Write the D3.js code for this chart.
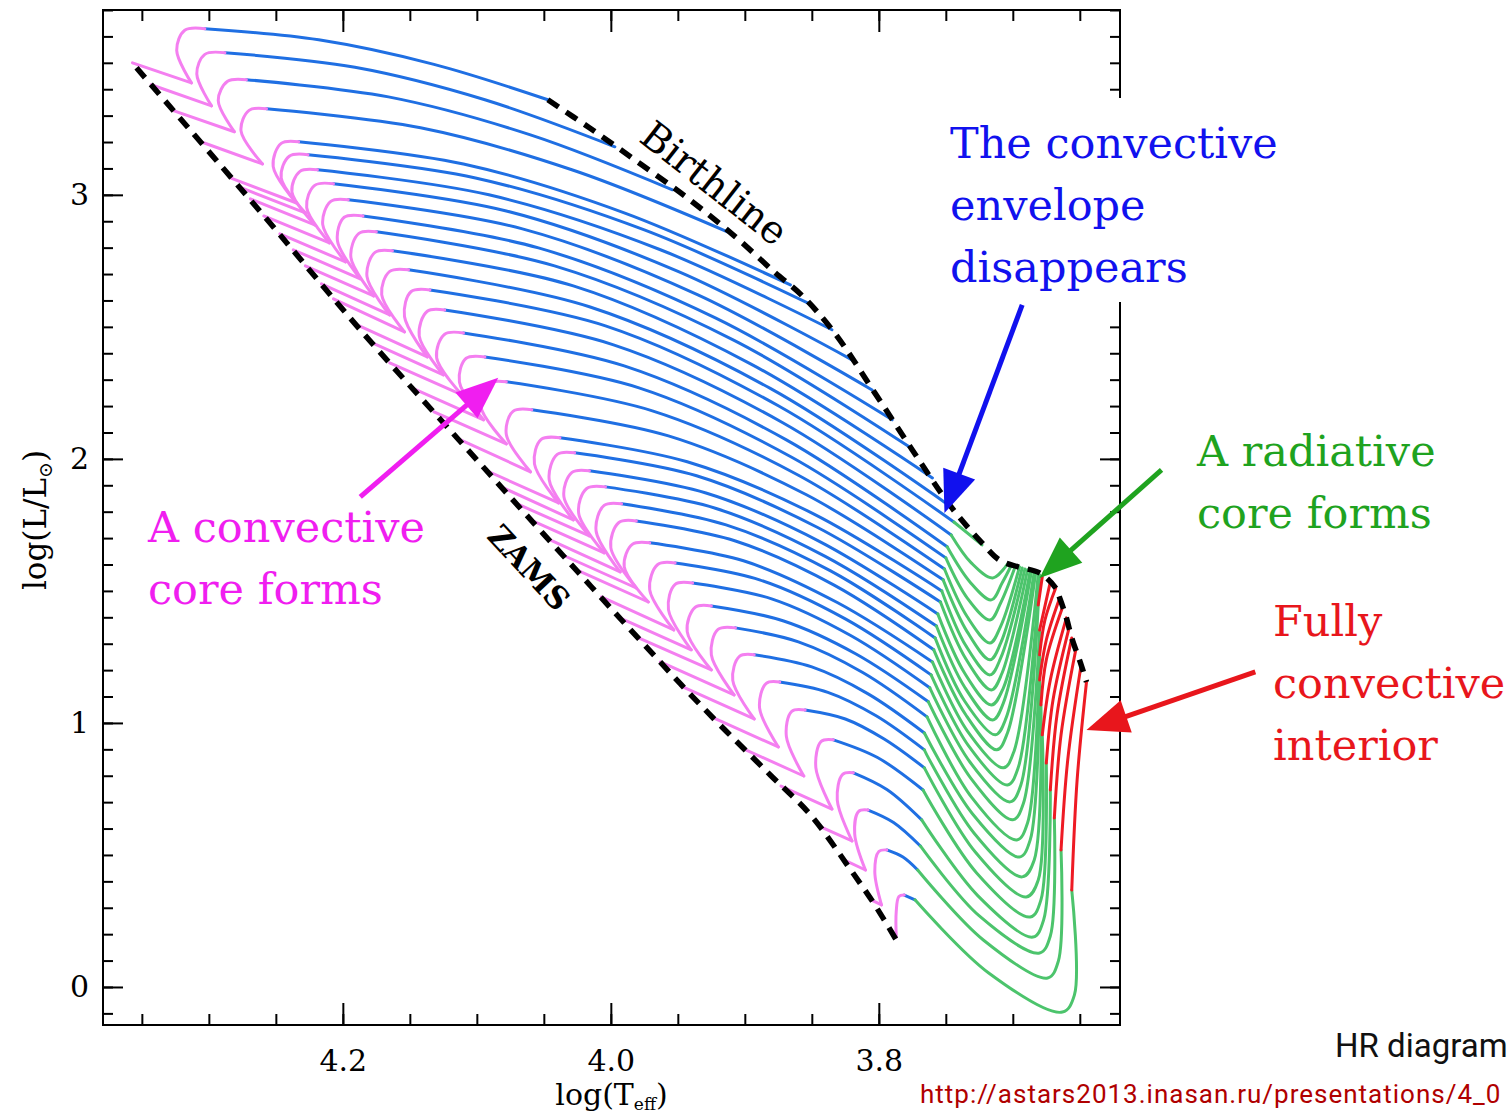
<!DOCTYPE html>
<html>
<head>
<meta charset="utf-8">
<script src="https://cdn.jsdelivr.net/npm/d3@7"></script>
<style>
  body { margin: 0; background: #fff; }
  svg { display: block; }
</style>
</head>
<body>
<svg id="chart" width="1512" height="1120"></svg>
<script>
// Pre-main-sequence tracks, points are [log(Teff), log(L/Lsun)], one row per track (most massive first)

const xMajor = [4.2, 4.0, 3.8];
const yMajor = [0, 1, 2, 3];

const birthline = [[4.047,3.360],[4.016,3.254],[3.977,3.114],[3.941,2.981],[3.907,2.841],[3.878,2.708],
  [3.857,2.617],[3.833,2.477],[3.803,2.250],[3.775,2.034],[3.746,1.818],[3.723,1.682],[3.710,1.617],
  [3.696,1.591],[3.680,1.568],[3.668,1.511],[3.665,1.473],[3.660,1.398],[3.656,1.322],[3.649,1.220],[3.645,1.155]];

const zams = [[4.354,3.481],[4.262,2.939],[4.187,2.489],[4.098,1.985],[4.051,1.720],[3.977,1.307],
  [3.931,1.057],[3.881,0.803],[3.851,0.652],[3.822,0.451],[3.803,0.311],[3.786,0.170]];

// blue: envelope no longer convective
const fullyRadiative = [
  [[4.047,3.360],[4.132,3.494],[4.218,3.587],[4.303,3.629]],
  [[3.997,3.182],[4.094,3.360],[4.191,3.483],[4.288,3.538]],
  [[3.954,3.019],[4.060,3.227],[4.166,3.371],[4.272,3.436]],
  [[3.913,2.860],[4.028,3.093],[4.142,3.254],[4.257,3.326]],
  [[3.866,2.659],[3.989,2.930],[4.110,3.117],[4.233,3.201]],
  [[3.850,2.583],[3.975,2.867],[4.101,3.064],[4.226,3.152]],
  [[3.835,2.489],[3.963,2.792],[4.091,3.000],[4.219,3.095]],
  [[3.820,2.375],[3.949,2.708],[4.078,2.939],[4.207,3.042]],
  [[3.805,2.261],[3.935,2.621],[4.066,2.871],[4.196,2.981]],
  [[3.790,2.148],[3.922,2.534],[4.054,2.799],[4.185,2.920]],
  [[3.775,2.038],[3.908,2.449],[4.042,2.731],[4.175,2.860]],
  [[3.760,1.928],[3.895,2.358],[4.028,2.655],[4.163,2.788]],
  [[3.746,1.818],[3.881,2.267],[4.016,2.576],[4.151,2.716]],
  [[3.744,1.761],[3.875,2.201],[4.004,2.504],[4.135,2.640]],
  [[3.746,1.712],[3.872,2.138],[3.998,2.432],[4.124,2.564]],
  [[3.749,1.667],[3.869,2.072],[3.990,2.352],[4.110,2.477]],
  [[3.750,1.625],[3.865,2.006],[3.979,2.269],[4.094,2.386]],
  [[3.751,1.583],[3.860,1.938],[3.969,2.182],[4.078,2.292]],
  [[3.752,1.542],[3.854,1.864],[3.957,2.087],[4.059,2.186]],
  [[3.753,1.500],[3.848,1.790],[3.943,1.989],[4.038,2.080]],
  [[3.754,1.458],[3.846,1.741],[3.936,1.936],[4.027,2.023]],
  [[3.756,1.413],[3.843,1.684],[3.929,1.871],[4.016,1.955]],
  [[3.757,1.367],[3.840,1.631],[3.922,1.813],[4.004,1.894]],
  [[3.758,1.322],[3.836,1.576],[3.914,1.750],[3.992,1.830]],
  [[3.759,1.277],[3.833,1.521],[3.907,1.689],[3.981,1.765]],
  [[3.760,1.231],[3.831,1.456],[3.901,1.614],[3.971,1.682]],
  [[3.761,1.182],[3.825,1.394],[3.889,1.542],[3.952,1.606]],
  [[3.762,1.133],[3.821,1.331],[3.880,1.470],[3.939,1.530]],
  [[3.763,1.080],[3.817,1.261],[3.871,1.386],[3.925,1.443]],
  [[3.764,1.023],[3.812,1.191],[3.860,1.307],[3.907,1.360]],
  [[3.766,0.962],[3.808,1.110],[3.850,1.212],[3.893,1.258]],
  [[3.766,0.898],[3.802,1.027],[3.838,1.116],[3.874,1.155]],
  [[3.766,0.830],[3.796,0.939],[3.825,1.015],[3.855,1.049]],
  [[3.767,0.746],[3.801,0.869],[3.834,0.936]],
  [[3.768,0.633],[3.794,0.748],[3.819,0.811]],
  [[3.769,0.534],[3.789,0.623],[3.808,0.670]],
  [[3.771,0.443],[3.782,0.492],[3.794,0.519]],
  [[3.773,0.330],[3.781,0.348]]
];

// green: radiative core, convective envelope
const radiativeCore = [
  [[3.723,1.674],[3.744,1.761]],
  [[3.704,1.602],[3.715,1.549],[3.731,1.606],[3.746,1.712]],
  [[3.701,1.598],[3.708,1.530],[3.716,1.466],[3.732,1.534],[3.749,1.667]],
  [[3.698,1.595],[3.709,1.455],[3.717,1.390],[3.734,1.473],[3.750,1.625]],
  [[3.695,1.591],[3.709,1.367],[3.717,1.303],[3.734,1.402],[3.751,1.583]],
  [[3.693,1.587],[3.709,1.303],[3.717,1.239],[3.734,1.345],[3.752,1.542]],
  [[3.691,1.583],[3.709,1.246],[3.717,1.182],[3.735,1.292],[3.753,1.500]],
  [[3.689,1.580],[3.708,1.189],[3.716,1.125],[3.735,1.242],[3.754,1.458]],
  [[3.687,1.576],[3.707,1.133],[3.716,1.068],[3.736,1.189],[3.756,1.413]],
  [[3.686,1.576],[3.707,1.076],[3.715,1.011],[3.736,1.136],[3.757,1.367]],
  [[3.684,1.572],[3.705,1.019],[3.713,0.955],[3.736,1.083],[3.758,1.322]],
  [[3.683,1.568],[3.704,0.962],[3.712,0.898],[3.735,1.030],[3.759,1.277]],
  [[3.681,1.564],[3.699,0.894],[3.707,0.830],[3.734,0.970],[3.760,1.231]],
  [[3.680,1.561],[3.696,0.830],[3.704,0.765],[3.733,0.913],[3.761,1.182]],
  [[3.681,1.447],[3.694,0.765],[3.702,0.701],[3.732,0.852],[3.762,1.133]],
  [[3.680,1.352],[3.692,0.697],[3.700,0.633],[3.731,0.788],[3.763,1.080]],
  [[3.680,1.258],[3.689,0.621],[3.697,0.557],[3.731,0.720],[3.764,1.023]],
  [[3.680,1.163],[3.687,0.557],[3.695,0.492],[3.730,0.655],[3.766,0.962]],
  [[3.679,1.068],[3.684,0.481],[3.693,0.417],[3.729,0.583],[3.766,0.898]],
  [[3.678,0.955],[3.681,0.405],[3.690,0.341],[3.728,0.511],[3.766,0.830]],
  [[3.675,0.848],[3.679,0.330],[3.687,0.265],[3.727,0.432],[3.767,0.746]],
  [[3.672,0.746],[3.677,0.254],[3.685,0.189],[3.726,0.345],[3.768,0.633]],
  [[3.669,0.640],[3.672,0.193],[3.680,0.129],[3.725,0.269],[3.769,0.534]],
  [[3.664,0.519],[3.666,0.098],[3.674,0.034],[3.722,0.178],[3.771,0.443]],
  [[3.656,0.367],[3.654,-0.030],[3.663,-0.095],[3.718,0.053],[3.773,0.330]]
];

// red: fully convective
const fullyConvective = [
  [[3.678,1.553],[3.681,1.447]],
  [[3.672,1.534],[3.680,1.352]],
  [[3.668,1.511],[3.676,1.390],[3.680,1.258]],
  [[3.665,1.473],[3.675,1.314],[3.680,1.163]],
  [[3.663,1.436],[3.675,1.239],[3.679,1.068]],
  [[3.660,1.398],[3.672,1.163],[3.678,0.955]],
  [[3.658,1.360],[3.670,1.087],[3.675,0.848]],
  [[3.656,1.322],[3.667,1.031],[3.672,0.746]],
  [[3.653,1.277],[3.664,0.955],[3.669,0.640]],
  [[3.649,1.220],[3.659,0.860],[3.664,0.519]],
  [[3.645,1.155],[3.652,0.784],[3.656,0.367]]
];

// magenta: convective core, hook down to the cusp
const convectiveCore = [
  [[4.303,3.629],[4.318,3.623],[4.324,3.547],[4.313,3.424]],
  [[4.288,3.538],[4.303,3.532],[4.309,3.458],[4.298,3.337]],
  [[4.272,3.436],[4.286,3.430],[4.293,3.357],[4.281,3.239]],
  [[4.257,3.326],[4.270,3.320],[4.276,3.242],[4.260,3.117]],
  [[4.233,3.201],[4.246,3.195],[4.252,3.108],[4.235,2.970]],
  [[4.226,3.152],[4.240,3.146],[4.246,3.064],[4.228,2.932]],
  [[4.219,3.095],[4.232,3.089],[4.238,3.011],[4.221,2.886]],
  [[4.207,3.042],[4.221,3.036],[4.227,2.952],[4.210,2.818]],
  [[4.196,2.981],[4.209,2.975],[4.215,2.887],[4.198,2.746]],
  [[4.185,2.920],[4.199,2.915],[4.204,2.825],[4.187,2.682]],
  [[4.175,2.860],[4.188,2.854],[4.194,2.763],[4.177,2.617]],
  [[4.163,2.788],[4.176,2.782],[4.182,2.691],[4.165,2.545]],
  [[4.151,2.716],[4.165,2.710],[4.171,2.622],[4.154,2.481]],
  [[4.135,2.640],[4.149,2.634],[4.154,2.539],[4.137,2.386]],
  [[4.124,2.564],[4.137,2.559],[4.143,2.466],[4.125,2.318]],
  [[4.110,2.477],[4.124,2.472],[4.130,2.383],[4.111,2.242]],
  [[4.094,2.386],[4.108,2.381],[4.113,2.291],[4.095,2.148]],
  [[4.078,2.292],[4.091,2.286],[4.097,2.198],[4.078,2.057]],
  [[4.059,2.186],[4.073,2.180],[4.078,2.092],[4.060,1.951]],
  [[4.038,2.080],[4.052,2.074],[4.057,1.981],[4.039,1.833]],
  [[4.027,2.023],[4.040,2.017],[4.046,1.921],[4.028,1.769]],
  [[4.016,1.955],[4.029,1.949],[4.035,1.856],[4.016,1.708]],
  [[4.004,1.894],[4.018,1.888],[4.024,1.794],[4.005,1.644]],
  [[3.992,1.830],[4.005,1.824],[4.011,1.727],[3.993,1.572]],
  [[3.981,1.765],[3.994,1.759],[4.000,1.664],[3.981,1.511]],
  [[3.971,1.682],[3.984,1.676],[3.990,1.592],[3.972,1.458]],
  [[3.952,1.606],[3.965,1.600],[3.971,1.505],[3.953,1.352]],
  [[3.939,1.530],[3.952,1.525],[3.957,1.429],[3.940,1.277]],
  [[3.925,1.443],[3.937,1.438],[3.943,1.346],[3.925,1.201]],
  [[3.907,1.360],[3.920,1.354],[3.925,1.258],[3.908,1.106]],
  [[3.893,1.258],[3.904,1.252],[3.909,1.161],[3.893,1.015]],
  [[3.874,1.155],[3.884,1.150],[3.889,1.057],[3.875,0.909]],
  [[3.855,1.049],[3.865,1.044],[3.869,0.949],[3.856,0.799]],
  [[3.834,0.936],[3.843,0.930],[3.847,0.831],[3.835,0.674]],
  [[3.819,0.811],[3.827,0.805],[3.831,0.708],[3.820,0.553]],
  [[3.808,0.670],[3.815,0.665],[3.818,0.580],[3.810,0.443]],
  [[3.794,0.519],[3.800,0.513],[3.803,0.436],[3.798,0.311]],
  [[3.781,0.348],[3.785,0.343],[3.787,0.285],[3.787,0.189]]
];

// magenta: from the cusp up to the ZAMS
const convectiveCoreDrop = [
  [[4.313,3.424],[4.357,3.500]], [[4.298,3.337],[4.343,3.417]], [[4.281,3.239],[4.327,3.320]],
  [[4.260,3.117],[4.307,3.203]], [[4.235,2.970],[4.283,3.062]], [[4.228,2.932],[4.276,3.027]],
  [[4.221,2.886],[4.269,2.985]], [[4.210,2.818],[4.259,2.920]], [[4.198,2.746],[4.247,2.852]],
  [[4.187,2.682],[4.237,2.792]], [[4.177,2.617],[4.228,2.731]], [[4.165,2.545],[4.216,2.663]],
  [[4.154,2.481],[4.207,2.606]], [[4.137,2.386],[4.191,2.511]], [[4.125,2.318],[4.178,2.439]],
  [[4.111,2.242],[4.165,2.364]], [[4.095,2.148],[4.149,2.270]], [[4.078,2.057],[4.132,2.178]],
  [[4.060,1.951],[4.113,2.074]], [[4.039,1.833],[4.093,1.956]], [[4.028,1.769],[4.081,1.892]],
  [[4.016,1.708],[4.071,1.832]], [[4.005,1.644],[4.060,1.769]], [[3.993,1.572],[4.047,1.697]],
  [[3.981,1.511],[4.036,1.636]], [[3.972,1.458],[4.026,1.581]], [[3.953,1.352],[4.007,1.477]],
  [[3.940,1.277],[3.995,1.402]], [[3.925,1.201],[3.981,1.326]], [[3.908,1.106],[3.963,1.231]],
  [[3.893,1.015],[3.948,1.140]], [[3.875,0.909],[3.925,1.023]], [[3.856,0.799],[3.901,0.902]],
  [[3.835,0.674],[3.873,0.761]], [[3.820,0.553],[3.845,0.610]], [[3.810,0.443],[3.826,0.481]],
  [[3.798,0.311],[3.805,0.328]]
];

const svg = d3.select("#chart");
const plot = { left: 103, right: 1120, top: 10, bottom: 1025 };
svg.append("rect").attr("width", 1512).attr("height", 1120).attr("fill", "#fff");

const x = d3.scaleLinear().domain([4.379, 3.620]).range([plot.left, plot.right]);
const y = d3.scaleLinear().domain([-0.144, 3.7]).range([plot.bottom, plot.top]);

const track = d3.line()
  .x(d => x(d[0]))
  .y(d => y(d[1]))
  .curve(d3.curveCatmullRom.alpha(0.5));

const phases = [
  [fullyRadiative, "#1f6fe3"],
  [radiativeCore, "#4cc46c"],
  [fullyConvective, "#ee1b24"],
  [convectiveCore, "#f47ff0"],
  [convectiveCoreDrop, "#f47ff0"]
];
phases.forEach(([set, color]) => {
  svg.append("g").selectAll("path").data(set).join("path")
    .attr("d", track)
    .attr("fill", "none")
    .attr("stroke", color)
    .attr("stroke-width", 3)
    .attr("stroke-linecap", "round")
    .attr("stroke-linejoin", "round");
});

// birthline and ZAMS
[birthline, zams].forEach(pts => {
  svg.append("path").datum(pts)
    .attr("d", track)
    .attr("fill", "none")
    .attr("stroke", "#000")
    .attr("stroke-width", 5.5)
    .attr("stroke-dasharray", "13,9");
});

// axes, ticks point inwards on all four sides
function ticks(gen, tx, ty) {
  const g = svg.append("g").attr("transform", `translate(${tx},${ty})`).call(gen);
  g.select(".domain").remove();
  g.selectAll(".tick line").attr("stroke", "#000").attr("stroke-width", 2);
  g.attr("font-family", "DejaVu Serif").attr("font-size", 30);
  g.selectAll("text").attr("fill", "#000");
  return g;
}
const minorX = x.ticks(16), minorY = y.ticks(40);
ticks(d3.axisBottom(x).tickValues(minorX).tickSize(-11).tickFormat(""), 0, plot.bottom);
ticks(d3.axisTop(x).tickValues(minorX).tickSize(-11).tickFormat(""), 0, plot.top);
ticks(d3.axisLeft(y).tickValues(minorY).tickSize(-10).tickFormat(""), plot.left, 0);
ticks(d3.axisRight(y).tickValues(minorY).tickSize(-10).tickFormat(""), plot.right, 0);
ticks(d3.axisBottom(x).tickValues(xMajor).tickSize(-22).tickPadding(25).tickFormat(d3.format(".1f")), 0, plot.bottom);
ticks(d3.axisTop(x).tickValues(xMajor).tickSize(-22).tickFormat(""), 0, plot.top);
ticks(d3.axisRight(y).tickValues(yMajor).tickSize(-20).tickFormat(""), plot.right, 0);
ticks(d3.axisLeft(y).tickValues(yMajor).tickSize(-20).tickPadding(14).tickFormat(d3.format("d")), plot.left, 0);

svg.append("rect")
  .attr("x", plot.left).attr("y", plot.top)
  .attr("width", plot.right - plot.left).attr("height", plot.bottom - plot.top)
  .attr("fill", "none").attr("stroke", "#000").attr("stroke-width", 2);

// axis titles
const xt = svg.append("text")
  .attr("x", (plot.left + plot.right) / 2).attr("y", 1105)
  .attr("text-anchor", "middle")
  .attr("font-family", "DejaVu Serif").attr("font-size", 30);
xt.append("tspan").text("log(T");
xt.append("tspan").attr("font-size", 17).attr("dy", 5).text("eff");
xt.append("tspan").attr("dy", -5).text(")");

const yt = svg.append("text")
  .attr("transform", "translate(46,520) rotate(-90)")
  .attr("text-anchor", "middle")
  .attr("font-family", "DejaVu Serif").attr("font-size", 31);
yt.append("tspan").text("log(L/L");
yt.append("tspan").attr("font-size", 19).attr("dy", 6).text("⊙");
yt.append("tspan").attr("dy", -6).text(")");

// line labels
svg.append("text")
  .attr("transform", "translate(706,194) rotate(38)")
  .attr("text-anchor", "middle")
  .attr("font-family", "DejaVu Serif").attr("font-size", 39)
  .text("Birthline");
svg.append("text")
  .attr("transform", "translate(521,575) rotate(47)")
  .attr("text-anchor", "middle")
  .attr("font-family", "DejaVu Serif").attr("font-size", 31).attr("font-weight", "bold")
  .text("ZAMS");

// annotations
const notes = [
  { lines: ["The convective", "envelope", "disappears"], color: "#1111ee", left: 950, top: 158,
    from: [3.693, 2.583], to: [3.751, 1.795], backdrop: true },
  { lines: ["A radiative", "core forms"], color: "#1fa31f", left: 1197, top: 466,
    from: [3.589, 1.958], to: [3.680, 1.549] },
  { lines: ["Fully", "convective", "interior"], color: "#e8161c", left: 1273, top: 636,
    from: [3.519, 1.193], to: [3.645, 0.973] },
  { lines: ["A convective", "core forms"], color: "#f01ef0", left: 148, top: 542,
    from: [4.187, 1.856], to: [4.084, 2.307] }
];
notes.forEach(n => {
  const t = svg.append("text")
    .attr("font-family", "DejaVu Serif").attr("font-size", 43).attr("fill", n.color);
  n.lines.forEach((s, i) => t.append("tspan").attr("x", n.left).attr("y", n.top + i * 62).text(s));
  if (n.backdrop) {
    const b = t.node().getBBox();
    svg.insert("rect", () => t.node())
      .attr("x", b.x - 10).attr("y", b.y - 20)
      .attr("width", b.width + 20).attr("height", b.height + 30)
      .attr("fill", "#fff");
  }

  const x0 = x(n.from[0]), y0 = y(n.from[1]), x1 = x(n.to[0]), y1 = y(n.to[1]);
  const len = Math.hypot(x1 - x0, y1 - y0), ux = (x1 - x0) / len, uy = (y1 - y0) / len;
  const hl = 42, hw = 17, bx = x1 - ux * hl, by = y1 - uy * hl;
  svg.append("line")
    .attr("x1", x0).attr("y1", y0).attr("x2", bx + ux * 6).attr("y2", by + uy * 6)
    .attr("stroke", n.color).attr("stroke-width", 5);
  svg.append("path")
    .attr("d", `M${x1},${y1}L${bx - uy * hw},${by + ux * hw}L${bx + uy * hw},${by - ux * hw}Z`)
    .attr("fill", n.color);
});

// caption and source
svg.append("text")
  .attr("x", 1335).attr("y", 1057)
  .attr("font-family", "Roboto").attr("font-size", 33).attr("fill", "#111")
  .text("HR diagram");
svg.append("text")
  .attr("x", 920).attr("y", 1103)
  .attr("font-family", "Roboto").attr("font-size", 26).attr("letter-spacing", 1)
  .attr("fill", "#b00000")
  .text("http://astars2013.inasan.ru/presentations/4_0");
</script>
</body>
</html>
